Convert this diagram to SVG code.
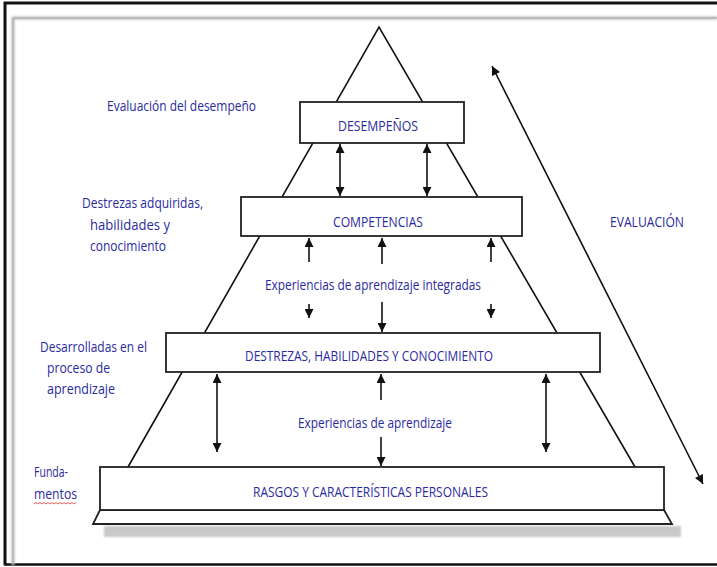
<svg xmlns="http://www.w3.org/2000/svg" width="717" height="567" viewBox="0 0 717 567">
  <defs>
    <marker id="ah" viewBox="0 0 10 10" refX="10" refY="5" markerWidth="10" markerHeight="9" orient="auto-start-reverse" markerUnits="userSpaceOnUse">
      <path d="M0,0 L10,5 L0,10 z" fill="#111"/>
    </marker>
    <filter id="soft" x="-5%" y="-50%" width="110%" height="200%">
      <feGaussianBlur stdDeviation="1.2"/>
    </filter>
  </defs>
  <style>
    .lbl { font-family: "Open Sans", "Noto Sans", "Liberation Sans", sans-serif; font-size: 14px; fill: #2a2aa0; }
    .box { fill: #fff; stroke: #222; stroke-width: 1.8; }
    .edge { fill: none; stroke: #111; stroke-width: 1.6; }
  </style>

  <!-- page background and frame -->
  <rect x="0" y="0" width="717" height="567" fill="#fff"/>
  <path d="M5,565 V3 H717" fill="none" stroke="#111" stroke-width="3"/>
  <path d="M4,564.5 H717" fill="none" stroke="#111" stroke-width="2.5"/>
  <path d="M13,565 V18 H717" fill="none" stroke="#bbb" stroke-width="3" filter="url(#soft)"/>
  <path d="M13,565 V18 H717" fill="none" stroke="#aaa" stroke-width="1"/>

  <!-- pyramid outline -->
  <g id="pyramid">
    <path d="M128,467 L379,27 L635,467" fill="none" stroke="#111" stroke-width="1.6"/>
  </g>

  <!-- base plinth and shadow -->
  <g id="base">
    <rect x="104" y="526" width="577" height="11" fill="#c8c8c8" filter="url(#soft)"/>
    <path d="M100,510 H664 L672,524 H93 Z" fill="#fff" stroke="#222" stroke-width="1.8"/>
  </g>

  <!-- pyramid levels -->
  <g id="desempenos">
    <rect class="box" x="300" y="102" width="164" height="41"/>
    <text class="lbl" x="338" y="131" textLength="80" lengthAdjust="spacingAndGlyphs">DESEMPEÑOS</text>
  </g>
  <g id="competencias">
    <rect class="box" x="241" y="197" width="281" height="39"/>
    <text class="lbl" x="333" y="227" textLength="90" lengthAdjust="spacingAndGlyphs">COMPETENCIAS</text>
  </g>
  <g id="destrezas">
    <rect class="box" x="166" y="333" width="434" height="39"/>
    <text class="lbl" x="245" y="361" textLength="248" lengthAdjust="spacingAndGlyphs">DESTREZAS, HABILIDADES Y CONOCIMIENTO</text>
  </g>
  <g id="rasgos">
    <rect class="box" x="100" y="467" width="564" height="43"/>
    <text class="lbl" x="253" y="497" textLength="235" lengthAdjust="spacingAndGlyphs">RASGOS Y CARACTERÍSTICAS PERSONALES</text>
  </g>

  <!-- side annotations -->
  <g id="label-evaluacion-desempeno">
    <text class="lbl" x="107" y="111" textLength="149" lengthAdjust="spacingAndGlyphs">Evaluación del desempeño</text>
  </g>
  <g id="label-destrezas-adquiridas">
    <text class="lbl" x="82" y="208" textLength="121" lengthAdjust="spacingAndGlyphs">Destrezas adquiridas,</text>
    <text class="lbl" x="90" y="230" textLength="80" lengthAdjust="spacingAndGlyphs">habilidades  y</text>
    <text class="lbl" x="90" y="251" textLength="76" lengthAdjust="spacingAndGlyphs">conocimiento</text>
  </g>
  <g id="label-desarrolladas">
    <text class="lbl" x="40" y="352" textLength="107" lengthAdjust="spacingAndGlyphs">Desarrolladas en el</text>
    <text class="lbl" x="47" y="373" textLength="63" lengthAdjust="spacingAndGlyphs">proceso de</text>
    <text class="lbl" x="47" y="394" textLength="68" lengthAdjust="spacingAndGlyphs">aprendizaje</text>
  </g>
  <g id="label-fundamentos">
    <text class="lbl" x="34" y="477" textLength="34" lengthAdjust="spacingAndGlyphs">Funda-</text>
    <text class="lbl" x="34" y="499" textLength="43" lengthAdjust="spacingAndGlyphs">mentos</text>
    <path d="M34,504 l2,-1.5 l2,1.5 l2,-1.5 l2,1.5 l2,-1.5 l2,1.5 l2,-1.5 l2,1.5 l2,-1.5 l2,1.5 l2,-1.5 l2,1.5 l2,-1.5 l2,1.5 l2,-1.5 l2,1.5 l2,-1.5 l2,1.5 l2,-1.5 l2,1.5 l2,-1.5" fill="none" stroke="#e03030" stroke-width="0.8"/>
  </g>
  <g id="label-experiencias-integradas">
    <text class="lbl" x="265" y="290" textLength="216" lengthAdjust="spacingAndGlyphs">Experiencias de aprendizaje integradas</text>
  </g>
  <g id="label-experiencias">
    <text class="lbl" x="298" y="428" textLength="154" lengthAdjust="spacingAndGlyphs">Experiencias de aprendizaje</text>
  </g>
  <g id="label-evaluacion">
    <text class="lbl" x="610" y="227" textLength="74" lengthAdjust="spacingAndGlyphs">EVALUACIÓN</text>
  </g>

  <!-- connectors -->
  <g id="connectors">
    <!-- desempeños ↔ competencias -->
    <line class="edge" x1="340" y1="144" x2="340" y2="196" marker-start="url(#ah)" marker-end="url(#ah)"/>
    <line class="edge" x1="427" y1="144" x2="427" y2="196" marker-start="url(#ah)" marker-end="url(#ah)"/>
    <!-- competencias ↔ destrezas -->
    <line class="edge" x1="309" y1="262" x2="309" y2="238" marker-end="url(#ah)"/>
    <line class="edge" x1="309" y1="304" x2="309" y2="318" marker-end="url(#ah)"/>
    <line class="edge" x1="382" y1="264" x2="382" y2="238" marker-end="url(#ah)"/>
    <line class="edge" x1="382" y1="302" x2="382" y2="332" marker-end="url(#ah)"/>
    <line class="edge" x1="491" y1="262" x2="491" y2="238" marker-end="url(#ah)"/>
    <line class="edge" x1="491" y1="304" x2="491" y2="318" marker-end="url(#ah)"/>
    <!-- destrezas ↔ rasgos -->
    <line class="edge" x1="217" y1="374" x2="217" y2="452" marker-start="url(#ah)" marker-end="url(#ah)"/>
    <line class="edge" x1="546" y1="374" x2="546" y2="452" marker-start="url(#ah)" marker-end="url(#ah)"/>
    <line class="edge" x1="381" y1="400" x2="381" y2="374" marker-end="url(#ah)"/>
    <line class="edge" x1="381" y1="437" x2="381" y2="466" marker-end="url(#ah)"/>
    <!-- evaluation axis -->
    <line class="edge" x1="492" y1="66" x2="703" y2="484" marker-start="url(#ah)" marker-end="url(#ah)"/>
  </g>
</svg>
